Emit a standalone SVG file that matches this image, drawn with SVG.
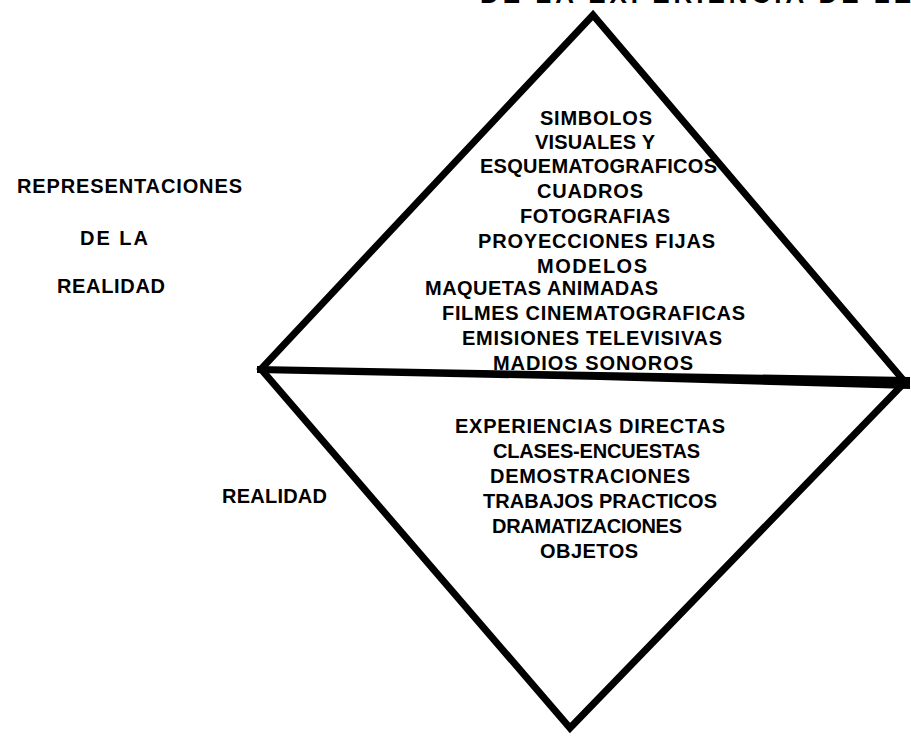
<svg xmlns="http://www.w3.org/2000/svg" width="911" height="736" viewBox="0 0 911 736">
<style>
text{font-family:"Liberation Sans",Arial,sans-serif;font-weight:bold;font-size:20px;fill:#000}
.t{font-size:26px}
.edge{fill:none;stroke:#000;stroke-width:7;stroke-linejoin:miter;stroke-miterlimit:10}
</style>
<rect width="911" height="736" fill="#fff"/>
<text class="t" x="480" y="3" textLength="431" lengthAdjust="spacing">DE LA EXPERIENCIA DE LE</text>
<g id="connectors">
<polygon id="diamond" class="edge" points="593,15 905,382 570,728 261,369"/>
<polygon id="divider" points="257,366 600,372 910,377 910,389 600,380 257,373" fill="#000"/>
</g>
<g id="labels-left">
<text x="17" y="193" textLength="225" lengthAdjust="spacing">REPRESENTACIONES</text>
<text x="80" y="245" textLength="68" lengthAdjust="spacing">DE LA</text>
<text x="57" y="293" textLength="108" lengthAdjust="spacing">REALIDAD</text>
<text x="222" y="503" textLength="105" lengthAdjust="spacing">REALIDAD</text>
</g>
<g id="representaciones">
<text x="540" y="125" textLength="112" lengthAdjust="spacing">SIMBOLOS</text>
<text x="535" y="149" textLength="120" lengthAdjust="spacing">VISUALES Y</text>
<text x="480" y="173" textLength="237" lengthAdjust="spacing">ESQUEMATOGRAFICOS</text>
<text x="537" y="198" textLength="106" lengthAdjust="spacing">CUADROS</text>
<text x="520" y="223" textLength="150" lengthAdjust="spacing">FOTOGRAFIAS</text>
<text x="478" y="248" textLength="237" lengthAdjust="spacing">PROYECCIONES FIJAS</text>
<text x="537" y="273" textLength="110" lengthAdjust="spacing">MODELOS</text>
<text x="425" y="295" textLength="233" lengthAdjust="spacing">MAQUETAS ANIMADAS</text>
<text x="442" y="320" textLength="303" lengthAdjust="spacing">FILMES CINEMATOGRAFICAS</text>
<text x="462" y="345" textLength="260" lengthAdjust="spacing">EMISIONES TELEVISIVAS</text>
<text x="493" y="370" textLength="200" lengthAdjust="spacing">MADIOS SONOROS</text>
</g>
<g id="realidad">
<text x="455" y="433" textLength="270" lengthAdjust="spacing">EXPERIENCIAS DIRECTAS</text>
<text x="493" y="458" textLength="207" lengthAdjust="spacing">CLASES-ENCUESTAS</text>
<text x="490" y="483" textLength="200" lengthAdjust="spacing">DEMOSTRACIONES</text>
<text x="483" y="508" textLength="234" lengthAdjust="spacing">TRABAJOS PRACTICOS</text>
<text x="492" y="533" textLength="190" lengthAdjust="spacing">DRAMATIZACIONES</text>
<text x="540" y="558" textLength="98" lengthAdjust="spacing">OBJETOS</text>
</g>
</svg>
